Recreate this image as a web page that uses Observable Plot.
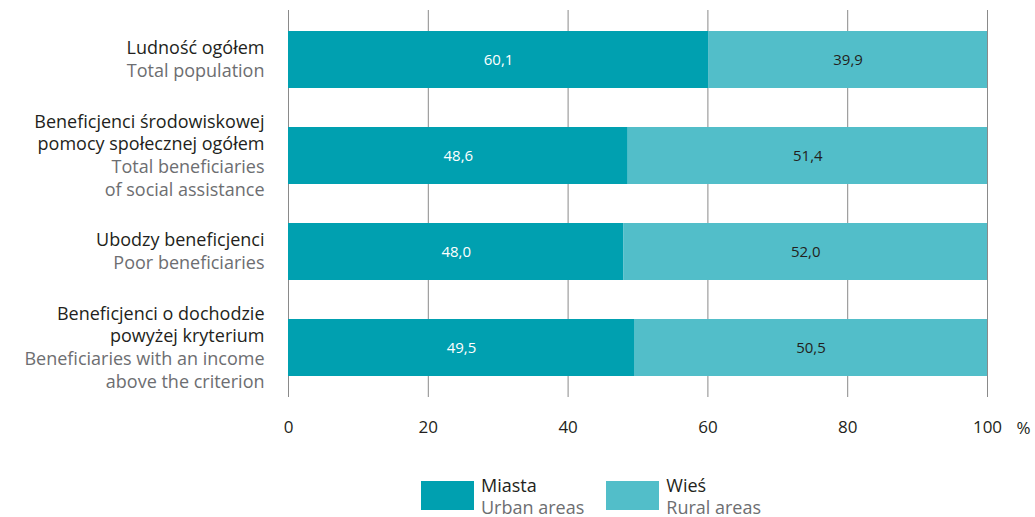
<!DOCTYPE html>
<html><head><meta charset="utf-8">
<script src="https://cdn.jsdelivr.net/npm/d3@7"></script>
<script src="https://cdn.jsdelivr.net/npm/@observablehq/plot@0.6"></script>
<style>
body{margin:0;background:#fff;font-family:"Open Sans",sans-serif;}
#legend{display:flex;margin-left:421px;margin-top:31px;gap:0;}
.item{display:flex;align-items:flex-start;}
.sw{width:53px;height:29px;margin-top:0px;}
.lt{margin-left:7px;font-size:18px;line-height:22px;margin-top:-7px;}
.pl{color:#231f20}.en{color:#6d6e71}
</style></head>
<body><div id="chart"></div>
<div id="legend"></div>
<script>
const categories = ["c1","c2","c3","c4"];
const labelsPl = ["Ludność ogółem", "Beneficjenci środowiskowej\npomocy społecznej ogółem", "Ubodzy beneficjenci", "Beneficjenci o dochodzie\npowyżej kryterium"];
const labelsEn = ["Total population", "Total beneficiaries\nof social assistance", "Poor beneficiaries", "Beneficiaries with an income\nabove the criterion"];
const urban = [60.1, 48.6, 48.0, 49.5];
const rural = [39.9, 51.4, 52.0, 50.5];
const areasPl = ["Miasta", "Wieś"];
const areasEn = ["Urban areas", "Rural areas"];
const colors = ["#00a0b0", "#52bec9"];
const xTicks = [0, 20, 40, 60, 80, 100];

const data = [];
categories.forEach((c, i) => {
  data.push({cat: c, area: areasPl[0], value: urban[i]});
  data.push({cat: c, area: areasPl[1], value: rural[i]});
});
const lines = [];
categories.forEach((c, i) => {
  const pl = labelsPl[i].split("\n"), en = labelsEn[i].split("\n");
  const all = pl.map(t => ({t, lang: "pl"})).concat(en.map(t => ({t, lang: "en"})));
  all.forEach((l, j) => lines.push({cat: c, text: l.t, lang: l.lang, k: j - (all.length - 1) / 2}));
});
const fmt = v => v.toFixed(1).replace(".", ",");

const chart = Plot.plot({
  width: 1035, height: 450,
  marginLeft: 288, marginRight: 48, marginTop: 10, marginBottom: 53,
  style: {fontFamily: "Open Sans, sans-serif", fontSize: "17px", color: "#231f20"},
  x: {domain: [0, 100], ticks: xTicks},
  y: {domain: categories, paddingInner: 0.41, paddingOuter: 0.207, axis: null},
  color: {domain: areasPl, range: colors},
  marks: [
    Plot.ruleX(xTicks, {stroke: "#8a8a8a", strokeWidth: 1}),
    Plot.barX(data, Plot.stackX({x: "value", y: "cat", fill: "area"})),
    Plot.axisX({ticks: xTicks, tickSize: 0, tickPadding: 23, fontSize: 17, fill: "#231f20", label: null}),
    Plot.text(["%"], {x: () => 100, frameAnchor: "bottom", dx: 29, dy: 36, textAnchor: "start", fontSize: 17, fill: "#231f20"}),
    Plot.textX(data, Plot.stackX({x: "value", y: "cat", z: "area", text: d => d.area === areasPl[0] ? fmt(d.value) : "", fill: "white", fontSize: 15})),
    Plot.textX(data, Plot.stackX({x: "value", y: "cat", z: "area", text: d => d.area === areasPl[1] ? fmt(d.value) : "", fill: "#231f20", fontSize: 15})),
    ...lines.map(l => Plot.text([l], {x: () => 0, y: "cat", text: "text", dx: -24, dy: l.k * 22.7, textAnchor: "end", fontSize: 18, fill: l.lang === "pl" ? "#231f20" : "#6d6e71"}))
  ]
});
document.getElementById("chart").appendChild(chart);

const legend = document.getElementById("legend");
areasPl.forEach((a, i) => {
  const it = document.createElement("div");
  it.className = "item";
  it.style.marginRight = i === 0 ? "22px" : "0";
  it.innerHTML = `<div class="sw" style="background:${colors[i]}"></div><div class="lt"><div class="pl">${a}</div><div class="en">${areasEn[i]}</div></div>`;
  legend.appendChild(it);
});
</script></body></html>
